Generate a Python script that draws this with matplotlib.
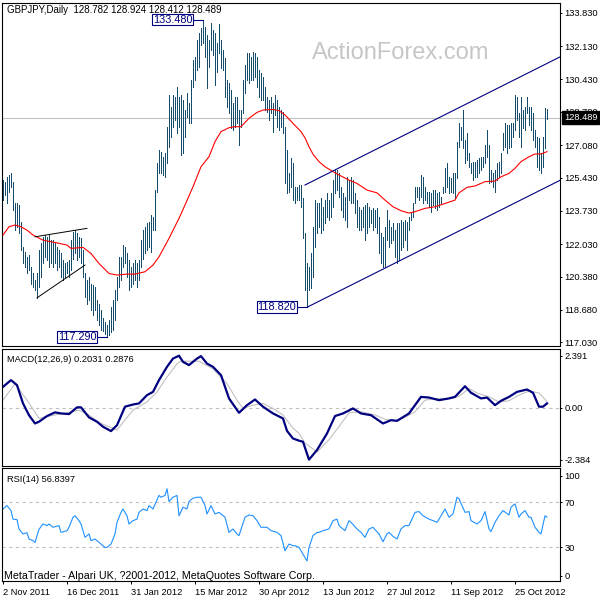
import numpy as np
import matplotlib
matplotlib.use('Agg')
import matplotlib.pyplot as plt
import matplotlib.transforms as mtransforms

plt.rcParams['font.family'] = ['Liberation Sans', 'DejaVu Sans']
FS = 6.7

# daily bars, 2 Nov 2011 -> mid Nov 2012
highs = [
    125.30, 125.22, 125.47, 125.56, 125.64, 125.22, 124.11, 124.11, 124.03, 123.18,
    121.90, 121.65, 121.39, 121.47, 120.88, 120.54, 120.20, 120.54, 121.73, 122.07,
    122.41, 122.50, 122.41, 122.50, 122.24, 122.24, 122.07, 121.90, 121.73, 121.56,
    121.22, 121.05, 121.13, 121.22, 122.24, 122.67, 122.75, 122.58, 122.41, 122.33,
    121.73, 120.54, 120.20, 120.37, 120.03, 119.95, 119.86, 119.18, 119.01, 118.67,
    118.25, 118.08, 117.91, 118.16, 118.84, 119.18, 119.69, 120.37, 121.39, 121.39,
    121.99, 121.90, 121.56, 121.22, 120.88, 121.05, 121.22, 121.05, 121.22, 122.24,
    122.75, 122.92, 123.09, 123.18, 123.52, 123.43, 124.79, 126.15, 126.83, 126.75,
    126.49, 126.66, 128.02, 129.63, 129.04, 129.63, 129.55, 130.06, 129.55, 129.63,
    129.38, 128.87, 129.72, 129.21, 130.40, 131.42, 131.59, 132.44, 132.78, 133.04,
    133.48, 133.12, 132.70, 132.44, 133.29, 132.95, 132.78, 132.27, 133.26, 132.44,
    131.93, 131.51, 130.40, 130.23, 129.89, 129.21, 129.55, 129.55, 128.87, 128.87,
    130.40, 131.17, 131.76, 131.76, 131.59, 131.85, 131.76, 131.59, 130.91, 130.74,
    130.57, 130.06, 129.55, 129.38, 129.55, 129.21, 129.63, 129.38, 129.04, 128.87,
    128.79, 128.02, 126.83, 125.64, 126.41, 126.15, 124.96, 124.96, 125.05, 125.05,
    124.37, 122.58, 121.05, 120.88, 121.56, 122.92, 124.28, 124.11, 124.11, 124.37,
    123.94, 124.28, 124.62, 124.28, 124.62, 125.30, 125.81, 125.81, 125.64, 124.96,
    124.62, 124.45, 125.47, 125.30, 125.47, 125.30, 124.62, 124.28, 123.94, 123.77,
    123.94, 124.03, 124.11, 123.94, 123.77, 123.86, 123.77, 123.86, 123.43, 122.58,
    122.41, 122.92, 123.77, 123.26, 122.92, 123.09, 122.75, 123.09, 123.09, 123.26,
    123.18, 123.26, 123.18, 123.43, 123.60, 124.11, 124.96, 124.96, 124.96, 125.56,
    125.47, 124.96, 124.71, 124.71, 124.62, 124.79, 124.79, 124.62, 124.71, 124.45,
    124.96, 125.90, 126.15, 125.47, 125.39, 125.64, 125.64, 127.26, 128.19, 128.02,
    128.87, 127.34, 127.68, 126.66, 126.15, 126.24, 126.24, 126.32, 126.41, 126.49,
    126.49, 127.09, 127.85, 127.09, 125.81, 125.64, 125.81, 126.15, 126.24, 126.66,
    127.68, 128.19, 128.10, 128.10, 128.19, 128.19, 129.63, 129.55, 128.70, 129.55,
    128.87, 129.04, 129.55, 129.04, 129.04, 128.70, 127.85, 127.51, 127.43, 126.66,
    127.51, 128.96, 128.924,
]
lows = [
    124.28, 124.54, 124.11, 124.71, 124.96, 123.77, 122.75, 122.92, 122.58, 121.73,
    121.05, 120.88, 120.54, 120.71, 120.03, 119.86, 119.69, 119.30, 119.86, 120.37,
    121.05, 121.39, 121.22, 120.88, 121.05, 120.88, 121.05, 120.71, 120.88, 120.37,
    120.20, 120.37, 120.54, 120.37, 120.71, 121.30, 121.56, 121.22, 121.39, 121.05,
    120.37, 119.35, 119.01, 119.18, 118.67, 118.42, 118.67, 118.16, 117.91, 117.65,
    117.60, 117.45, 117.29, 117.40, 117.55, 117.65, 118.16, 119.18, 119.86, 120.20,
    120.88, 121.05, 120.37, 119.69, 119.86, 120.03, 120.20, 119.86, 120.20, 120.88,
    121.30, 121.56, 121.73, 121.90, 121.65, 122.75, 122.75, 124.71, 125.64, 125.64,
    125.56, 125.47, 126.15, 127.00, 127.51, 128.02, 128.36, 127.68, 128.02, 126.58,
    126.66, 127.51, 128.53, 128.19, 128.19, 130.06, 130.40, 130.91, 131.08, 132.19,
    132.27, 131.59, 129.98, 131.08, 131.93, 131.68, 130.15, 130.82, 131.76, 130.99,
    130.91, 129.55, 129.04, 128.70, 127.94, 127.85, 128.02, 128.19, 127.09, 128.02,
    128.70, 129.72, 130.40, 130.23, 130.40, 130.40, 130.57, 130.06, 129.55, 129.38,
    129.38, 128.87, 128.79, 128.36, 128.70, 127.77, 128.62, 128.02, 127.85, 128.02,
    127.68, 125.13, 124.62, 124.71, 124.96, 124.28, 124.11, 124.28, 124.28, 123.94,
    122.33, 119.69, 118.82, 119.69, 119.78, 120.37, 121.90, 122.58, 122.92, 122.58,
    122.75, 123.09, 123.43, 123.26, 123.43, 123.94, 124.62, 124.79, 124.45, 123.77,
    123.43, 123.26, 122.92, 124.28, 124.11, 124.11, 123.60, 122.92, 122.75, 122.75,
    122.92, 122.24, 122.58, 122.92, 123.09, 122.75, 122.92, 122.58, 121.56, 121.05,
    120.88, 120.88, 122.24, 121.90, 122.07, 122.24, 121.39, 121.05, 121.22, 121.73,
    121.90, 122.24, 121.73, 122.75, 123.26, 123.43, 124.11, 124.45, 124.28, 124.45,
    124.11, 124.28, 124.11, 123.94, 123.69, 124.03, 123.86, 123.77, 123.94, 124.11,
    124.62, 124.71, 124.96, 124.62, 124.71, 124.62, 124.37, 125.39, 127.00, 127.34,
    126.92, 126.15, 126.32, 125.98, 125.64, 125.30, 125.47, 125.47, 125.64, 125.81,
    125.98, 126.15, 126.49, 125.13, 125.22, 124.96, 124.71, 125.30, 125.47, 125.64,
    126.83, 127.00, 126.66, 126.92, 127.00, 127.51, 127.85, 128.36, 127.51, 127.00,
    127.94, 127.85, 128.70, 128.10, 127.85, 127.34, 127.00, 125.98, 125.81, 125.64,
    125.98, 126.92, 128.412,
]
assert len(highs) == len(lows)

# moving average (red), read at bar positions
ma_bars = [0, 3, 6, 9, 12, 15, 20, 27, 32, 34, 40, 44, 48, 53, 57, 62, 66, 71, 75, 78,
           83, 88, 91, 95, 99, 103, 106, 109, 113, 116, 119, 123, 127, 130, 135, 138, 141, 145, 149, 151,
           153, 155, 158, 161, 165, 168, 173, 177, 182, 187, 191, 195, 199, 203, 206, 211, 216, 221, 226, 228,
           232, 236, 241, 246, 249, 253, 256, 259, 263, 266, 269, 272]
ma_values = [122.50, 122.92, 123.01, 122.92, 122.75, 122.50, 122.24, 122.10, 121.99, 121.82,
             121.87, 121.56, 121.05, 120.54, 120.46, 120.51, 120.51, 120.63, 120.97, 121.39,
             122.33, 123.35, 124.03, 124.96, 125.98, 126.49, 127.26, 127.77, 127.97, 128.02,
             128.02, 128.45, 128.75, 128.87, 128.90, 128.84, 128.62, 128.19, 127.77, 127.45,
             127.00, 126.62, 126.24, 125.98, 125.73, 125.56, 125.30, 125.13, 124.79, 124.65,
             124.28, 123.94, 123.74, 123.62, 123.69, 123.86, 123.94, 124.11, 124.28, 124.65,
             124.93, 125.00, 125.22, 125.25, 125.47, 125.64, 125.90, 126.24, 126.49, 126.63,
             126.63, 126.75]

# MACD(12,26,9) main line and signal
macd_bars = [0, 4, 7, 10, 13, 16, 18, 22, 26, 29, 33, 37, 39, 43, 47, 50, 54, 57, 61, 65,
             68, 72, 75, 78, 82, 85, 88, 90, 93, 97, 99, 102, 105, 109, 113, 118, 122, 126, 130, 135,
             140, 142, 145, 148, 150, 153, 157, 162, 166, 170, 175, 179, 184, 190, 194, 197, 203, 209, 213, 218,
             223, 226, 231, 234, 239, 242, 246, 249, 253, 257, 262, 265, 268, 270, 272]
macd_values = [0.96, 1.27, 1.04, 0.20, -0.34, -0.72, -0.64, -0.38, -0.21, -0.26,
               -0.29, 0.02, 0.02, -0.44, -0.64, -0.87, -1.07, -0.80, 0.05, 0.15,
               0.20, 0.58, 0.73, 1.27, 1.88, 2.26, 2.39, 2.11, 1.96, 2.26,
               2.37, 2.03, 1.88, 1.50, 0.43, -0.23, 0.12, 0.38, 0.05, -0.26,
               -0.49, -1.06, -1.41, -1.51, -1.56, -2.38, -1.94, -1.18, -0.38, -0.26,
               -0.03, -0.26, -0.34, -0.72, -0.57, -0.60, -0.26, 0.50, 0.47, 0.35,
               0.43, 0.50, 0.99, 0.69, 0.43, 0.47, 0.12, 0.32, 0.50, 0.73,
               0.84, 0.69, 0.05, 0.05, 0.20]
signal_bars = [0, 6, 12, 18, 23, 32, 38, 43, 48, 57, 61, 65, 72, 77, 82, 87, 89, 98, 105, 112,
               117, 120, 125, 130, 135, 140, 145, 148, 151, 157, 163, 168, 173, 179, 186, 191, 196, 201, 206, 211,
               216, 223, 228, 233, 237, 243, 248, 253, 258, 263, 268, 272]
signal_values = [0.35, 1.11, 0.35, -0.48, -0.38, -0.23, -0.11, -0.33, -0.68, -1.02,
                 -0.56, -0.11, 0.27, 0.73, 1.41, 2.02, 2.14, 2.14, 1.79, 1.11,
                 0.35, -0.03, 0.12, 0.20, -0.03, -0.33, -0.94, -1.17, -1.62, -2.03,
                 -1.47, -0.86, -0.23, -0.18, -0.33, -0.53, -0.59, -0.44, -0.18, 0.35,
                 0.42, 0.42, 0.53, 0.88, 0.68, 0.50, 0.27, 0.32, 0.58, 0.77,
                 0.68, 0.29]

# RSI(14)
rsi_bars = [0, 2, 4, 5, 7, 8, 10, 12, 13, 15, 16, 18, 20, 22, 23, 25, 28, 29, 32, 33,
            35, 36, 38, 39, 41, 43, 44, 46, 48, 51, 52, 54, 56, 57, 59, 60, 62, 63, 65, 67,
            68, 70, 72, 73, 75, 78, 79, 81, 82, 83, 85, 87, 88, 90, 92, 93, 95, 97, 99, 101,
            102, 104, 106, 108, 111, 113, 115, 117, 118, 121, 123, 125, 127, 129, 132, 134, 137, 139, 141, 143,
            145, 146, 148, 150, 152, 153, 155, 157, 158, 160, 163, 165, 167, 168, 171, 173, 174, 177, 179, 181,
            183, 185, 188, 190, 192, 193, 195, 197, 199, 201, 203, 206, 208, 210, 213, 215, 217, 218, 221, 223,
            225, 227, 228, 231, 233, 234, 237, 239, 241, 243, 244, 246, 248, 250, 253, 254, 256, 258, 259, 261,
            263, 264, 266, 268, 269, 271, 272]
rsi_values = [64.0, 67.0, 62.6, 55.0, 54.6, 46.3, 41.9, 43.0, 37.4, 36.0, 34.4, 46.0, 50.7, 49.3, 50.7, 47.8, 49.3, 43.3, 44.8, 47.8,
              56.7, 58.0, 53.7, 50.7, 38.9, 41.9, 36.0, 37.4, 34.4, 30.0, 30.0, 33.0, 41.9, 52.2, 61.0, 64.0, 58.0, 50.7, 53.7, 55.0,
              61.0, 64.0, 62.6, 67.0, 64.0, 76.0, 74.4, 76.0, 81.9, 70.6, 74.4, 76.0, 58.0, 65.6, 64.0, 70.6, 73.6, 74.4, 74.4, 67.0,
              59.6, 67.0, 59.6, 61.0, 56.7, 43.3, 46.3, 41.9, 40.4, 56.7, 58.7, 58.0, 53.7, 47.8, 47.8, 44.8, 43.3, 40.4, 27.0, 33.0,
              31.5, 31.5, 30.0, 24.0, 18.0, 30.0, 40.4, 43.3, 43.3, 44.8, 46.3, 53.7, 55.0, 49.3, 44.8, 53.7, 52.2, 46.3, 43.3, 38.9,
              46.3, 47.8, 41.9, 35.0, 41.9, 43.3, 39.8, 37.4, 46.3, 49.3, 49.3, 61.0, 61.7, 58.0, 55.0, 53.7, 52.2, 55.0, 64.0, 56.7,
              59.6, 74.4, 73.0, 61.0, 61.7, 53.7, 50.7, 53.7, 61.7, 46.3, 44.0, 52.2, 58.0, 62.6, 58.7, 65.6, 68.5, 56.7, 59.6, 62.6,
              56.7, 56.7, 47.8, 43.3, 41.9, 58.0, 56.84]

date_ticks = [0, 32, 64, 96, 128, 160, 192, 224, 256]
date_labels = ['2 Nov 2011', '16 Dec 2011', '31 Jan 2012', '15 Mar 2012', '30 Apr 2012',
               '13 Jun 2012', '27 Jul 2012', '11 Sep 2012', '25 Oct 2012']
price_ticks = [133.83, 132.13, 130.43, 128.78, 127.08, 125.43, 123.73, 122.03, 120.38, 118.68, 117.03]
macd_ticks = [2.391, 0.0, -2.384]
macd_tick_labels = ['2.391', '0.00', '-2.384']
rsi_levels = [70, 30]
# MT4 pulls the 100 and 0 labels inside the panel
rsi_tick_pos = [93.5, 70, 30, 5.0]
rsi_tick_labels = ['100', '70', '30', '0']

last_price = 128.489
header = 'GBPJPY,Daily  128.782 128.924 128.412 128.489'

# (bar, price, label) marked extremes
extremes = [(100, 133.48, '133.480'), (52, 117.29, '117.290'), (152, 118.82, '118.820')]
# trend lines: (bar, price) anchors
triangle_upper = [(16, 122.41), (42, 122.84)]
triangle_lower = [(17, 119.30), (41, 120.97)]
channel_upper = [(151, 125.05), (276, 131.45)]
channel_lower = [(152, 118.82), (276, 125.16)]

x = np.arange(len(highs))
XMAX = 278.5

BAR_COLOR = '#174d6c'
NAVY = '#000080'
GREY = '#c0c0c0'

fig = plt.figure(figsize=(6, 6), dpi=100)
ax = fig.add_axes([2 / 600, (600 - 346.3) / 600, 558 / 600, 343.6 / 600])
ax_macd = fig.add_axes([2 / 600, (600 - 466.3) / 600, 558 / 600, 117.3 / 600])
ax_rsi = fig.add_axes([2 / 600, (600 - 581.3) / 600, 558 / 600, 113 / 600])

for a in (ax, ax_macd, ax_rsi):
    a.set_xlim(-0.5, XMAX)
    for s in a.spines.values():
        s.set_color('black')
        s.set_linewidth(0.8)
    a.yaxis.tick_right()
    a.tick_params(axis='y', direction='out', length=1.6, width=0.7, labelsize=FS, pad=1.6,
                  left=False, labelleft=False, right=True, labelright=True)
    a.tick_params(axis='x', bottom=False, labelbottom=False)

# price panel
ax.set_ylim(116.83, 134.34)
ax.set_yticks(price_ticks)
ax.set_yticklabels(['%.3f' % t for t in price_ticks])
ax.text((312 - 2) / 558, 0.854, 'ActionForex.com', transform=ax.transAxes, fontsize=17,
        color='#c6c6c6', va='center', ha='left', zorder=0)
ax.axhline(last_price, color=GREY, lw=0.8, zorder=1)
ax.vlines(x, lows, highs, color=BAR_COLOR, lw=0.72, antialiased=False, zorder=2)
ax.plot(ma_bars, ma_values, color='red', lw=0.8, zorder=3)

for line in (triangle_upper, triangle_lower):
    (b0, p0), (b1, p1) = line
    ax.plot([b0, b1], [p0, p1], color='black', lw=0.7, zorder=3)

for line in (channel_upper, channel_lower):
    (b0, p0), (b1, p1) = line
    slope = (p1 - p0) / (b1 - b0)
    ax.plot([b0, XMAX], [p0, p0 + slope * (XMAX - b0)], color=NAVY, lw=0.8, zorder=3)

for bar, price, label in extremes:
    ax.plot([bar - 5, bar], [price, price], color=NAVY, lw=0.8, zorder=4)
    ax.text(bar - 5.3, price, label, ha='right', va='center', fontsize=7.8, color=NAVY, zorder=5,
            bbox=dict(boxstyle='square,pad=0.08', fc='white', ec=NAVY, lw=0.8))

trans = mtransforms.blended_transform_factory(ax.transAxes, ax.transData)
ax.text(1.007, last_price, '128.489', transform=trans, ha='left', va='center', fontsize=FS,
        color='white', zorder=6, clip_on=False,
        bbox=dict(boxstyle='square,pad=0.2', fc='black', ec='black'))
ax.text(5 / 558, 0.9686, header, transform=ax.transAxes, fontsize=7.0, va='baseline', ha='left')

# macd panel
ax_macd.set_ylim(-2.687, 2.699)
ax_macd.set_yticks(macd_ticks)
ax_macd.set_yticklabels(macd_tick_labels)
ax_macd.axhline(0, color=GREY, lw=0.8, ls=(0, (3, 3)))
ax_macd.plot(signal_bars, signal_values, color=GREY, lw=0.8)
ax_macd.plot(macd_bars, macd_values, color=NAVY, lw=1.6)
ax_macd.text(0.0095, 0.8866, 'MACD(12,26,9) 0.2031 0.2876', transform=ax_macd.transAxes,
             fontsize=FS, va='baseline', ha='left')

# rsi panel
ax_rsi.set_ylim(0, 100)
ax_rsi.set_yticks(rsi_tick_pos)
ax_rsi.set_yticklabels(rsi_tick_labels)
for lvl in rsi_levels:
    ax_rsi.axhline(lvl, color=GREY, lw=0.8, ls=(0, (3, 3)))
ax_rsi.plot(rsi_bars, rsi_values, color='#1e90ff', lw=0.8)
ax_rsi.text(0.0095, 0.876, 'RSI(14) 56.8397', transform=ax_rsi.transAxes,
            fontsize=FS, va='baseline', ha='left')
ax_rsi.text(2 / 558, 0.0177, 'MetaTrader - Alpari UK, ?2001-2012, MetaQuotes Software Corp.',
            transform=ax_rsi.transAxes, fontsize=7.7, va='baseline', ha='left')
ax_rsi.set_xticks(date_ticks)
ax_rsi.set_xticklabels(date_labels, ha='left')
ax_rsi.tick_params(axis='x', bottom=True, labelbottom=True, direction='out', length=2.5,
                   width=0.7, labelsize=FS, pad=2.3)

fig.savefig('out.png', dpi=100, facecolor='white')
